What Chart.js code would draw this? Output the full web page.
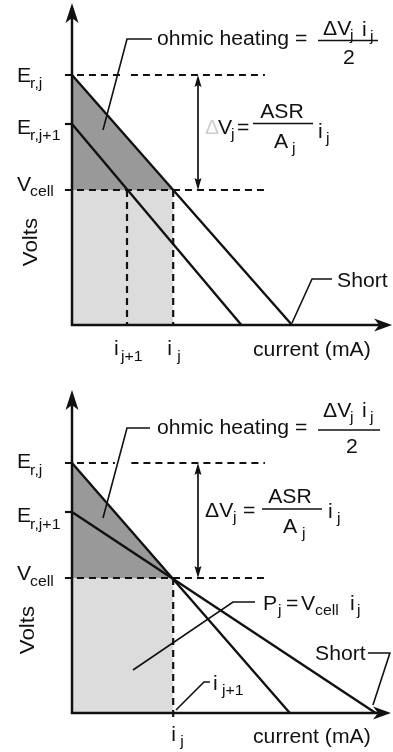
<!DOCTYPE html>
<html><head><meta charset="utf-8">
<script src="https://cdn.jsdelivr.net/npm/chart.js@4.4.0/dist/chart.umd.min.js"></script>
<style>
html,body{margin:0;padding:0;background:#fff;}
canvas{display:block;}
</style></head>
<body>
<canvas id="topPanel" width="393" height="376"></canvas>
<canvas id="botPanel" width="393" height="376"></canvas>
<script>
// ---------------- data (normalised units) ----------------
// voltage levels: E_r,j , E_r,j+1 , V_cell
const topLevels = [1.0, 0.804, 0.54];
const botLevels = [1.0, 0.804, 0.54];
// current where each polarisation line reaches 0 V (line from E_r,j , line from E_r,j+1)
const topShort = [10.0, 7.7];
const botShort = [9.9, 13.8];
// operating currents: i_j , i_j+1 (top) ; i_j (bottom)
const topCurrents = [4.6, 2.5];
const botCurrents = [4.6];
// axis extents (tips of the arrows)
const topAxisTips = [14.55, 1.288];
const botAxisTips = [14.5, 1.292];
// dashed guide extent and double-arrow position (current units)
const guideStart = -0.32, guideEnd = 8.77, dvArrowX = 5.727;

// annotation leader lines (data units)
const topLeaders = [
  [[3.636, 1.144], [2.5, 1.144], [1.409, 0.78]],
  [[10.0, 0.008], [10.91, 0.184], [11.82, 0.184]]
];
const botLeaders = [
  [[3.545, 1.14], [2.5, 1.14], [1.409, 0.78]],
  [[8.318, 0.444], [7.318, 0.444], [2.773, 0.172]],
  [[4.727, 0.012], [6.0, 0.124], [6.27, 0.124]],
  [[13.45, 0.24], [14.45, 0.24], [13.68, 0.032]]
];
// gaps in the E_r,j dashed guide where leaders cross
const topGap = [2.23, 2.68];
const botGap = [1.95, 2.7];

// ---------------- helpers ----------------
const FONT = '"Liberation Sans", Arial, Helvetica, sans-serif';
const SX = 1.06;
const INK = '#111';
const DARK = '#999999';
const LIGHT = '#dcdcdc';

function pts(arr){ return arr.map(p => ({x:p[0], y:p[1]})); }
function ds(data, o){
  return Object.assign({data, borderColor: INK, borderWidth: 2, pointRadius: 0,
    pointHoverRadius:0, fill: false, tension: 0, spanGaps: false, borderCapStyle:'butt',
    borderJoinStyle:'miter', order: 1}, o || {});
}
function txt(ctx, s, x, y, size, opts){
  opts = opts || {};
  ctx.save();
  ctx.font = (size||20) + 'px ' + FONT;
  ctx.fillStyle = opts.color || INK;
  ctx.textBaseline = 'alphabetic';
  let w = ctx.measureText(s).width * SX;
  let x0 = opts.center ? x - w/2 : x;
  ctx.translate(x0, y);
  ctx.scale(SX, 1);
  ctx.fillText(s, 0, 0);
  ctx.restore();
}
function arrow(ctx, tx, ty, dx, dy, len, hw, notch){
  const px = -dy, py = dx;
  ctx.beginPath();
  ctx.moveTo(tx, ty);
  ctx.lineTo(tx - dx*len + px*hw, ty - dy*len + py*hw);
  ctx.lineTo(tx - dx*(len-notch), ty - dy*(len-notch));
  ctx.lineTo(tx - dx*len - px*hw, ty - dy*len - py*hw);
  ctx.closePath();
  ctx.fillStyle = INK;
  ctx.fill();
}

function makePanel(id, cfg){
  const L = cfg.levels, S = cfg.short, I = cfg.currents, T = cfg.tips;
  const originY = cfg.originY;
  const datasets = [];
  // shaded areas
  datasets.push(ds(pts([[0, L[0]], [I[0], L[2]]]), {borderWidth:0, borderColor:'rgba(0,0,0,0)', backgroundColor: DARK, fill:{value: L[2]}, order: 9}));
  datasets.push(ds(pts([[0, L[2]], [I[0], L[2]]]), {borderWidth:0, borderColor:'rgba(0,0,0,0)', backgroundColor: LIGHT, fill:'origin', order: 9}));
  // polarisation lines
  datasets.push(ds(pts([[0, L[0]], [S[0], 0]]), {borderWidth: 2.4}));
  datasets.push(ds(pts([[0, L[1]], [S[1], 0]]), {borderWidth: 2.4}));
  // dashed guides
  const g = cfg.gap;
  datasets.push(ds([{x:guideStart,y:L[0]},{x:g[0],y:L[0]},{x:(g[0]+g[1])/2,y:null},{x:g[1],y:L[0]},{x:guideEnd,y:L[0]}], {borderDash:[7,5], borderWidth: 2.2}));
  datasets.push(ds(pts([[guideStart, L[2]], [guideEnd, L[2]]]), {borderDash:[7,5], borderWidth: 2.2}));
  datasets.push(ds(pts([[guideStart, L[1]], [0, L[1]]]), {borderWidth: 2.2}));
  // vertical dashed current markers
  I.forEach(c => datasets.push(ds(pts([[c, L[2]], [c, cfg.markerBottom]]), {borderDash:[7,5], borderWidth: 2.2})));
  // axes
  datasets.push(ds(pts([[0, T[1]-0.05], [0, 0], [T[0]-0.5, 0]]), {borderWidth: 2.5}));
  // delta-V double arrow shaft
  datasets.push(ds(pts([[dvArrowX, L[0]-0.02], [dvArrowX, L[2]+0.02]]), {borderWidth: 1.7}));
  // leaders
  cfg.leaders.forEach(l => datasets.push(ds(pts(l), {borderWidth: 1.6})));

  const xmin = -72/22, xmax = (393-72)/22;
  const ymax = originY/250, ymin = (originY-376)/250;

  const deco = {
    id: 'deco',
    afterDatasetsDraw(chart){
      const ctx = chart.ctx, xs = chart.scales.x, ys = chart.scales.y;
      const X = v => xs.getPixelForValue(v), Y = v => ys.getPixelForValue(v);
      // axis arrowheads
      arrow(ctx, X(0), Y(T[1]), 0, -1, 20, 6.5, 5);
      arrow(ctx, X(T[0]), Y(0), 1, 0, 18, 6.5, 5);
      // delta-V double arrow heads
      arrow(ctx, X(dvArrowX), Y(L[0]), 0, -1, 12, 3.5, 2);
      arrow(ctx, X(dvArrowX), Y(L[2]), 0, 1, 12, 3.5, 2);
      cfg.draw(ctx, X, Y);
    }
  };

  return new Chart(document.getElementById(id), {
    type: 'line',
    data: { datasets },
    options: {
      responsive: false, animation: false, events: [],
      layout: { padding: 0 },
      scales: {
        x: { type: 'linear', min: xmin, max: xmax, display: false },
        y: { type: 'linear', min: ymin, max: ymax, display: false }
      },
      plugins: { legend: { display: false }, tooltip: { enabled: false } }
    },
    plugins: [deco]
  });
}

function fracBar(ctx, x1, x2, y){
  ctx.save(); ctx.strokeStyle = INK; ctx.lineWidth = 1.6;
  ctx.beginPath(); ctx.moveTo(x1, y); ctx.lineTo(x2, y); ctx.stroke(); ctx.restore();
}
function volts(ctx, cx, cy){
  ctx.save(); ctx.translate(cx, cy); ctx.rotate(-Math.PI/2);
  ctx.font = '21px ' + FONT; ctx.fillStyle = INK; ctx.textAlign = 'center'; ctx.textBaseline = 'middle';
  ctx.scale(SX,1);
  ctx.fillText('Volts', 0, 0); ctx.restore();
}

makePanel('topPanel', {
  levels: topLevels, short: topShort, currents: topCurrents, tips: topAxisTips,
  originY: 325, gap: topGap, leaders: topLeaders, markerBottom: 0,
  draw(ctx, X, Y){
    const L = topLevels, I = topCurrents;
    txt(ctx, 'E', 17, Y(L[0])+7); txt(ctx, 'r,j', 30, Y(L[0])+13, 15);
    txt(ctx, 'E', 17, Y(L[1])+10); txt(ctx, 'r,j+1', 30, Y(L[1])+16, 15);
    txt(ctx, 'V', 17, Y(L[2])+1); txt(ctx, 'cell', 30, Y(L[2])+6, 15);
    volts(ctx, 31, 242);
    txt(ctx, 'i', X(I[1])-13, 355); txt(ctx, 'j+1', X(I[1])-6, 361, 15);
    txt(ctx, 'i', X(I[0])-6, 355); txt(ctx, 'j', X(I[0])+4, 361, 15);
    txt(ctx, 'current (mA)', 253, 356);
    txt(ctx, 'Short', 337, 287);
    txt(ctx, 'ohmic heating =', 157, 45);
    txt(ctx, '\u0394V', 323, 35); txt(ctx, 'j', 350, 40, 15); txt(ctx, 'i', 362, 36); txt(ctx, 'j', 370, 41, 15);
    fracBar(ctx, 318, 378, 40.5);
    txt(ctx, '2', 349, 64, 20, {center:true});
    txt(ctx, '\u0394', 205, 134, 20, {color:'#cfcfcf'}); txt(ctx, 'V', 218, 134); txt(ctx, 'j', 231, 139, 15); txt(ctx, '=', 237, 134);
    fracBar(ctx, 253, 313, 123.5);
    txt(ctx, 'ASR', 282, 118, 20, {center:true});
    txt(ctx, 'A', 274, 148); txt(ctx, 'j', 292, 153, 15);
    txt(ctx, 'i', 318, 138); txt(ctx, 'j', 326, 143, 15);
  }
});

makePanel('botPanel', {
  levels: botLevels, short: botShort, currents: botCurrents, tips: botAxisTips,
  originY: 337, gap: botGap, leaders: botLeaders, markerBottom: -0.028,
  draw(ctx, X, Y){
    const L = botLevels, I = botCurrents;
    txt(ctx, 'E', 17, Y(L[0])+5); txt(ctx, 'r,j', 30, Y(L[0])+12, 15);
    txt(ctx, 'E', 17, Y(L[1])+10); txt(ctx, 'r,j+1', 30, Y(L[1])+17, 15);
    txt(ctx, 'V', 17, Y(L[2])+2); txt(ctx, 'cell', 30, Y(L[2])+8, 15);
    volts(ctx, 28, 254);
    txt(ctx, 'ohmic heating =', 157, 58);
    txt(ctx, '\u0394V', 323, 41); txt(ctx, 'j', 350, 46, 15); txt(ctx, 'i', 362, 41); txt(ctx, 'j', 370, 46, 15);
    fracBar(ctx, 318, 380, 54);
    txt(ctx, '2', 352, 77, 20, {center:true});
    txt(ctx, '\u0394V', 205, 141); txt(ctx, 'j', 233, 146, 15); txt(ctx, '=', 243, 141);
    fracBar(ctx, 262, 322, 133);
    txt(ctx, 'ASR', 290, 127, 20, {center:true});
    txt(ctx, 'A', 283, 157); txt(ctx, 'j', 302, 162, 15);
    txt(ctx, 'i', 328, 142); txt(ctx, 'j', 337, 147, 15);
    txt(ctx, 'P', 263, 234); txt(ctx, 'j', 278, 239, 15); txt(ctx, '=', 286, 234);
    txt(ctx, 'V', 301, 234); txt(ctx, 'cell', 315, 239, 15); txt(ctx, 'i', 350, 234); txt(ctx, 'j', 357, 239, 15);
    txt(ctx, 'Short', 315, 284);
    txt(ctx, 'i', 213, 314); txt(ctx, 'j+1', 222, 319, 15);
    txt(ctx, 'i', X(I[0])-2, 365); txt(ctx, 'j', X(I[0])+7, 370, 15);
    txt(ctx, 'current (mA)', 253, 367);
  }
});
</script>
</body></html>
